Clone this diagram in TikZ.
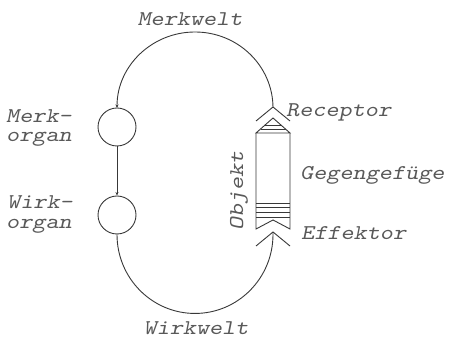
\documentclass[tikz,border=0pt]{standalone}
\usetikzlibrary{arrows.meta}
\newcommand\wide[1]{\scalebox{1.19}[1]{#1}}
\begin{document}
\begin{tikzpicture}[x=1pt,y=1pt,
  ln/.style={draw=black!78, line width=0.9pt, line join=miter},
  tip/.style={-{Stealth[length=3.5pt,width=3pt]}},
  organ/.style={ln, circle, minimum size=38pt, inner sep=0pt},
  lbl/.style={font=\fontsize{21}{19}\selectfont\ttfamily\slshape, text=black!65, inner sep=0pt}]
\useasboundingbox (0,0) rectangle (449,339);
% organs
\node[organ] (m) at (117,212) {};
\node[organ] (w) at (117,124) {};
% receptor / effector apex points
\coordinate (rapex) at (273,232);
\coordinate (eapex) at (273,107);
\coordinate (rarc) at (273,231);
% circuit
\draw[ln,tip] (rarc) arc[start angle=0, end angle=180, x radius=78, y radius=76];
\draw[ln,tip] (m.south) -- (w.north);
\draw[ln] (w.south) arc[start angle=180, end angle=360, x radius=78, y radius=79] -- (eapex);
% object
\draw[ln] (256,218) -- (rapex) -- (290,218);
\draw[ln] (256,206) -- (273,221) -- (290,206) -- cycle;
\draw[ln] (265.1,214) -- (280.9,214);
\draw[ln] (260.5,210) -- (285.5,210);
\draw[ln] (256,206) -- (256,110) -- (273,119) -- (290,110) -- (290,206);
\foreach \yy in {136,131.5,127,122} \draw[ln] (256,\yy) -- (290,\yy);
\draw[ln] (256,93) -- (eapex) -- (290,93);
% labels
\node[lbl, anchor=base] (mw) at (190,313) {\wide{Merkwelt}};
\node[lbl, anchor=base] (ww) at (196,4) {\wide{Wirkwelt}};
\node[lbl, anchor=base west] (mo1) at (6,216) {\wide{Merk-}};
\node[lbl, anchor=base west] (mo2) at (6,197) {\wide{organ}};
\node[lbl, anchor=base west] (wo1) at (7,130) {\wide{Wirk-}};
\node[lbl, anchor=base west] (wo2) at (6,110) {\wide{organ}};
\node[lbl, anchor=base west] (rc) at (286,222) {\wide{Receptor}};
\node[lbl, anchor=base west] (gg) at (300,159) {\wide{Gegengefüge}};
\node[lbl, anchor=base west] (ef) at (301,99) {\wide{Effektor}};
\node[lbl, rotate=90] (ob) at (239,148) {\wide{Objekt}};
\end{tikzpicture}
\end{document}
